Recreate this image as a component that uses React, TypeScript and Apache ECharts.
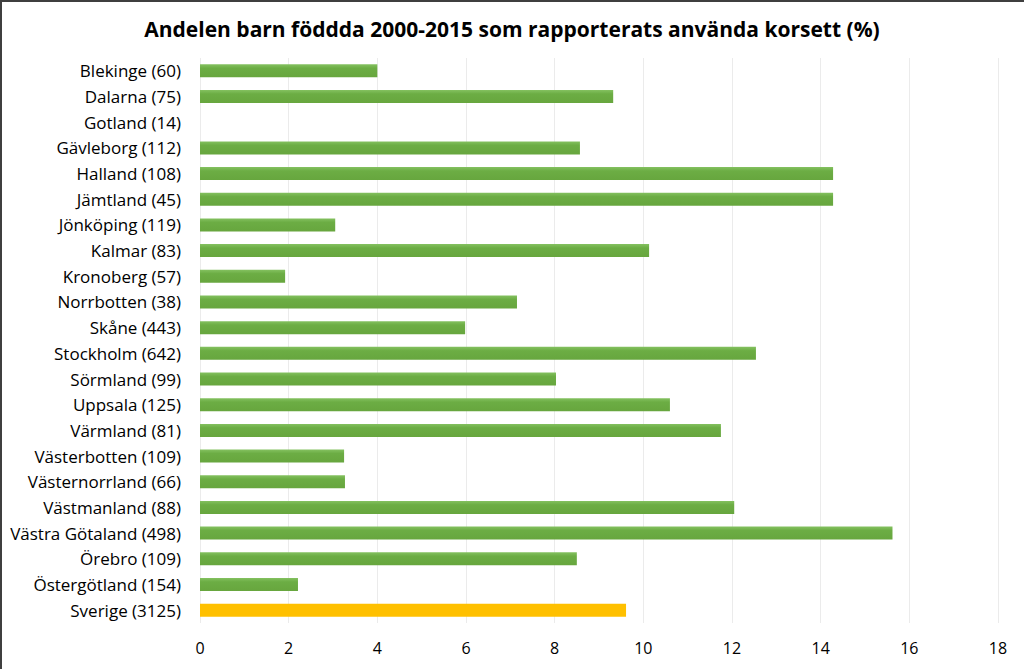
import React, { useEffect, useRef } from "react";
import * as echarts from "echarts";

const title = "Andelen barn föddda 2000-2015 som rapporterats använda korsett (%)";

const categories = [
  "Blekinge (60)",
  "Dalarna (75)",
  "Gotland (14)",
  "Gävleborg (112)",
  "Halland (108)",
  "Jämtland (45)",
  "Jönköping (119)",
  "Kalmar (83)",
  "Kronoberg (57)",
  "Norrbotten (38)",
  "Skåne (443)",
  "Stockholm (642)",
  "Sörmland (99)",
  "Uppsala (125)",
  "Värmland (81)",
  "Västerbotten (109)",
  "Västernorrland (66)",
  "Västmanland (88)",
  "Västra Götaland (498)",
  "Örebro (109)",
  "Östergötland (154)",
  "Sverige (3125)",
];

const values = [
  4.0, 9.32, 0, 8.57, 14.28, 14.28, 3.05, 10.13, 1.92, 7.15, 5.98, 12.54, 8.03,
  10.6, 11.75, 3.25, 3.27, 12.05, 15.62, 8.5, 2.21, 9.61,
];

const highlightCategory = "Sverige (3125)";

const xTicks = { min: 0, max: 18, interval: 2 };

const FONT = "'Open Sans', Lato, sans-serif";

export default function App() {
  const ref = useRef<HTMLDivElement>(null);

  useEffect(() => {
    if (!ref.current) return;
    const chart = echarts.init(ref.current, undefined, { renderer: "svg" });
    const green = new echarts.graphic.LinearGradient(0, 0, 0, 1, [
      { offset: 0, color: "#84c160" },
      { offset: 0.3, color: "#6cad44" },
      { offset: 1, color: "#67a63e" },
    ]);
    chart.setOption({
      animation: false,
      backgroundColor: "#ffffff",
      title: {
        text: title,
        left: "center",
        top: 13,
        textStyle: {
          fontFamily: FONT,
          fontSize: 21,
          fontWeight: "bold",
          color: "#000000",
        },
      },
      graphic: [
        {
          type: "rect",
          shape: { x: 0, y: 0, width: 1024, height: 2 },
          style: { fill: "#3f3f3f" },
        },
        {
          type: "rect",
          shape: { x: 0, y: 0, width: 2, height: 669 },
          style: { fill: "#3f3f3f" },
        },
      ],
      grid: { left: 200, right: 26, top: 58, bottom: 46, containLabel: false },
      xAxis: {
        type: "value",
        min: xTicks.min,
        max: xTicks.max,
        interval: xTicks.interval,
        axisLine: { show: false },
        axisTick: { show: false },
        splitLine: { show: true, lineStyle: { color: "#ebebeb", width: 1 } },
        axisLabel: {
          fontFamily: FONT,
          fontSize: 16,
          color: "#000000",
          margin: 17,
        },
      },
      yAxis: {
        type: "category",
        inverse: true,
        data: categories,
        axisLine: { show: false },
        axisTick: { show: false },
        axisLabel: {
          fontFamily: FONT,
          fontSize: 17,
          color: "#000000",
          margin: 19,
        },
      },
      series: [
        {
          type: "bar",
          barWidth: 13,
          data: categories.map((c, i) => ({
            value: values[i],
            itemStyle: {
              color: c === highlightCategory ? "#ffc000" : green,
            },
          })),
        },
      ],
    });
    return () => chart.dispose();
  }, []);

  return (
    <div
      ref={ref}
      style={{ position: "absolute", left: 0, top: 0, width: 1024, height: 669 }}
    />
  );
}
